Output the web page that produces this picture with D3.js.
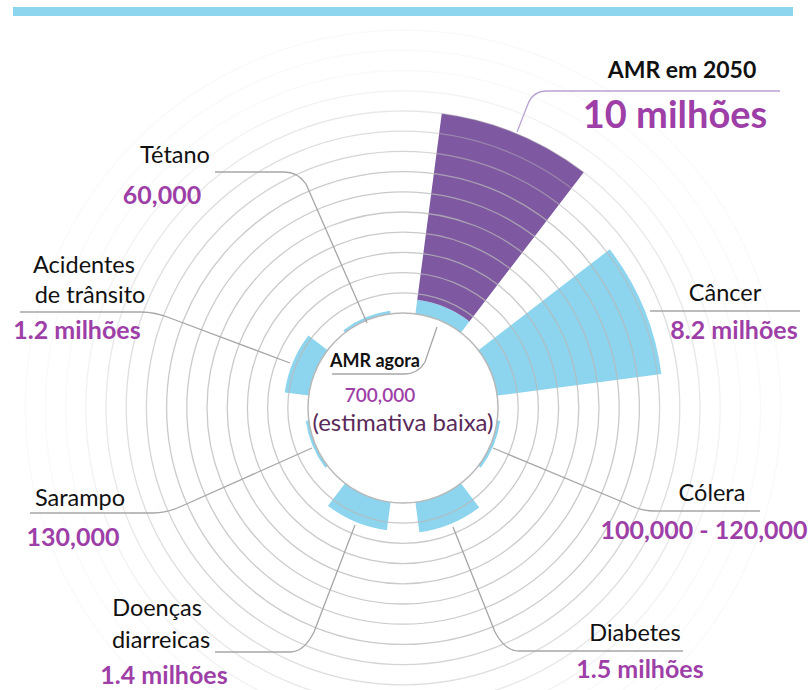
<!DOCTYPE html>
<html><head><meta charset="utf-8">
<script src="https://cdn.jsdelivr.net/npm/d3@7"></script>
<style>body{margin:0;background:#fff}svg{display:block}text{font-family:Lato,"Open Sans",sans-serif}</style>
</head><body><svg id="c" width="811" height="690"></svg>
<script>
// ---- data ----
const categories = ["AMR em 2050","Câncer","Cólera","Diabetes","Doenças diarreicas","Sarampo","Acidentes de trânsito","Tétano"];
const deathsMillions = [10, 8.2, 0.11, 1.5, 1.4, 0.13, 1.2, 0.06];
const amrNowMillions = 0.7;
const nameLines = [["AMR em 2050"],["Câncer"],["Cólera"],["Diabetes"],["Doenças","diarreicas"],["Sarampo"],["Acidentes","de trânsito"],["Tétano"]];
const valueLabels = ["10 milhões","8.2 milhões","100,000 - 120,000","1.5 milhões","1.4 milhões","130,000","1.2 milhões","60,000"];
const ringTicks = [1,2,3,4,5,6,7,8,9,10,11,12,13,14];

// ---- layout ----
const svg = d3.select("#c");
const cx = 403, cy = 408, r0 = 95;
const r = d3.scaleLinear().domain([0, 10]).range([r0, 297]);
const a = d3.scaleBand().domain(categories).range([0, 2*Math.PI]).paddingInner(1/3).paddingOuter(1/6);
const BLUE = "#8dd5ee", PURPLE = "#7e59a1", VAL = "#9d3fa7";

svg.append("rect").attr("x",13).attr("y",7).attr("width",780).attr("height",9).attr("fill",BLUE);

const g = svg.append("g").attr("transform",`translate(${cx},${cy})`);
const arc = d3.arc();
const minT = 3;
// bars
categories.forEach((c,i)=>{
  const s = a(c), e = s + a.bandwidth();
  if (i === 0) {
    g.append("path").attr("d", arc({innerRadius:r0, outerRadius:r(amrNowMillions), startAngle:s, endAngle:e})).attr("fill",BLUE);
    g.append("path").attr("d", arc({innerRadius:r(amrNowMillions), outerRadius:r(deathsMillions[i]), startAngle:s, endAngle:e})).attr("fill",PURPLE);
  } else {
    const outer = Math.max(r(deathsMillions[i]), r0 + minT);
    g.append("path").attr("d", arc({innerRadius:r0, outerRadius:outer, startAngle:s, endAngle:e})).attr("fill",BLUE);
  }
});
// rings
g.selectAll("circle.ring").data(ringTicks).join("circle")
  .attr("r", d=>r(d)).attr("fill","none")
  .attr("stroke","#b8b8b8").attr("stroke-width",1.3)
  .attr("stroke-opacity", d=> d<=7 ? 0.75 : Math.max(0.08, 0.75 - (d-7)*0.14));
g.append("circle").attr("r", r0).attr("fill","none").attr("stroke","#b8b8b8").attr("stroke-width",1.5);

// leader lines (layout)
function leader(pts, color){
  const [p0,p1,p2,p3] = pts;
  svg.append("path").attr("d",`M${p0[0]},${p0[1]}L${p1[0]},${p1[1]}Q${p2[0]},${p2[1]} ${p2[0]+(p3[0]>p2[0]?14:-14)},${p2[1]}L${p3[0]},${p3[1]}`)
    .attr("fill","none").attr("stroke",color||"#a6a6a6").attr("stroke-width",1.3);
}
leader([[517,132],[528,104],[533,91],[780,91]], "#b9a2d2");
svg.append("path").attr("d","M650,311L800,311").attr("stroke","#a6a6a6").attr("stroke-width",1.3);
leader([[493,448],[625,503],[640,511],[760,511]]);
leader([[453,527],[495,632],[505,651],[683,651]]);
leader([[355,525],[314,632],[304,652],[215,652]]);
leader([[312,448],[182,506],[167,513],[30,513]]);
leader([[290,363],[170,318],[155,312],[20,312]]);
leader([[367,323],[306,184],[298,172],[215,172]]);
leader([[437,327],[425,362],[418,374],[332,374]]);

// labels
function txt(x,y,s,size,color,weight,anchor){
  svg.append("text").attr("x",x).attr("y",y).text(s).attr("font-size",size).attr("fill",color)
    .attr("font-weight",weight||400).attr("text-anchor",anchor||"start");
}
const namePos = [[682,78],[725,301],[712,501],[635,641],[[157,616],[161,648]],[80,506],[[84,273],[90,303]],[175,163]];
const valPos = [[675,128],[734,339],[704,539],[640,678],[164,684],[73,546],[77,339],[162,204]];
categories.forEach((c,i)=>{
  const np = namePos[i];
  if (nameLines[i].length===1) txt(np[0],np[1],nameLines[i][0], i===0?23:23.5, "#111", i===0?700:400, "middle");
  else nameLines[i].forEach((l,j)=>txt(np[j][0],np[j][1],l,23.5,"#111",400,"middle"));
  txt(valPos[i][0],valPos[i][1],valueLabels[i], i===0?38:25, VAL, 700, "middle");
});
txt(375,367,"AMR agora",18,"#111",700,"middle");
txt(380,402,"700,000",19,VAL,600,"middle");
txt(403,431,"(estimativa baixa)",24,"#5a2a5a",400,"middle");
</script></body></html>
